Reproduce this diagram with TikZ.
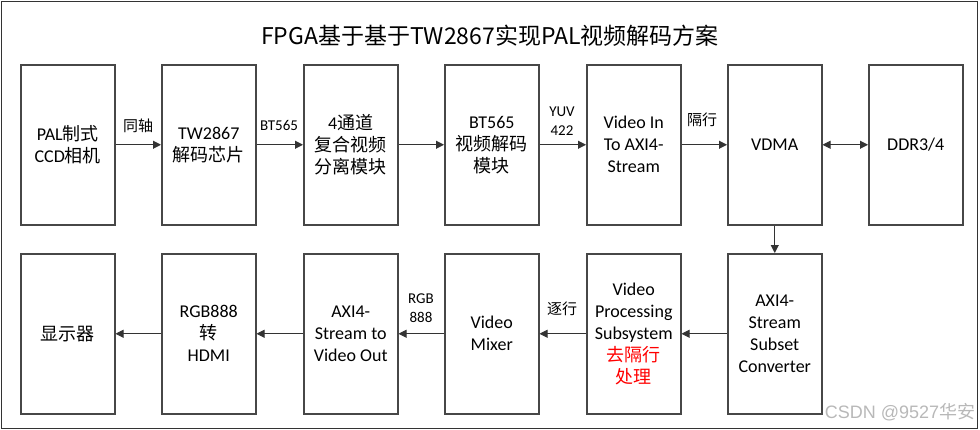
\documentclass[tikz,border=0pt]{standalone}
\usepackage{fontspec}
\setmainfont{Carlito}
\newfontfamily\cjk{Noto Sans CJK SC}
\newfontfamily\wmfont{Liberation Sans}
\newcommand\zh[1]{{\cjk #1}}
\usetikzlibrary{arrows.meta}
\begin{document}
\begin{tikzpicture}[x=1pt,y=-1pt,
  blk/.style={draw=black!72, line width=1.5pt, minimum width=94pt, minimum height=160pt,
    inner sep=0pt, align=center, font=\fontsize{18}{22}\selectfont, anchor=north west},
  lbl/.style={font=\fontsize{15}{19}\selectfont, align=center, inner sep=0pt},
  conn/.style={draw=black!80, line width=1pt, -{Triangle[length=8pt,width=8pt]}},
  dconn/.style={draw=black!80, line width=1pt, {Triangle[length=8pt,width=8pt]}-{Triangle[length=8pt,width=8pt]}}]
\useasboundingbox (0,0) rectangle (980,429);
\draw[black!80, line width=1pt] (1.5,1.5) rectangle (977,428);
\node[font=\fontsize{23}{26}\selectfont\cjk] (title) at (490,36) {FPGA基于基于TW2867实现PAL视频解码方案};
% top row
\node[blk] (cam) at (20,64) {PAL\zh{制式}\\CCD\zh{相机}};
\node[blk] (tw) at (161,64) {TW2867\\\zh{解码芯片}};
\node[blk] (sep) at (303,64) {4\zh{通道}\\\zh{复合视频}\\\zh{分离模块}};
\node[blk] (bt) at (444,64) {BT565\\\zh{视频解码}\\\zh{模块}};
\node[blk] (vin) at (586,64) {Video In\\To AXI4-\\Stream};
\node[blk] (vdma) at (727,64) {VDMA};
\node[blk] (ddr) at (868,64) {DDR3/4};
% bottom row
\node[blk] (conv) at (727,253) {AXI4-\\Stream\\Subset\\Converter};
\node[blk] (vps) at (586,253) {Video\\Processing\\Subsystem\\\textcolor{red}{\zh{去隔行}}\\\textcolor{red}{\zh{处理}}};
\node[blk] (mix) at (444,253) {Video\\Mixer};
\node[blk] (vout) at (303,253) {AXI4-\\Stream to\\Video Out};
\node[blk] (hdmi) at (161,253) {RGB888\\\zh{转}\\HDMI};
\node[blk] (disp) at (20,253) {\zh{显示器}};
% connectors
\draw[conn] (cam) -- (tw);
\draw[conn] (tw) -- (sep);
\draw[conn] (sep) -- (bt);
\draw[conn] (bt) -- (vin);
\draw[conn] (vin) -- (vdma);
\draw[dconn] (vdma) -- (ddr);
\draw[conn] (vdma) -- (conv);
\draw[conn] (conv) -- (vps);
\draw[conn] (vps) -- (mix);
\draw[conn] (mix) -- (vout);
\draw[conn] (vout) -- (hdmi);
\draw[conn] (hdmi) -- (disp);
% labels
\node[lbl] (l1) at (138,126) {\zh{同轴}};
\node[lbl] (l2) at (279,125) {BT565};
\node[lbl] (l3) at (562,121) {YUV\\422};
\node[lbl] (l4) at (702,120) {\zh{隔行}};
\node[lbl] (l5) at (562,309) {\zh{逐行}};
\node[lbl] (l6) at (421,308) {RGB\\888};
\node[font=\fontsize{18}{20}\selectfont\wmfont, text=black!28, inner sep=0pt] (wm) at (900,412) {CSDN @9527\zh{华安}};
\end{tikzpicture}
\end{document}
